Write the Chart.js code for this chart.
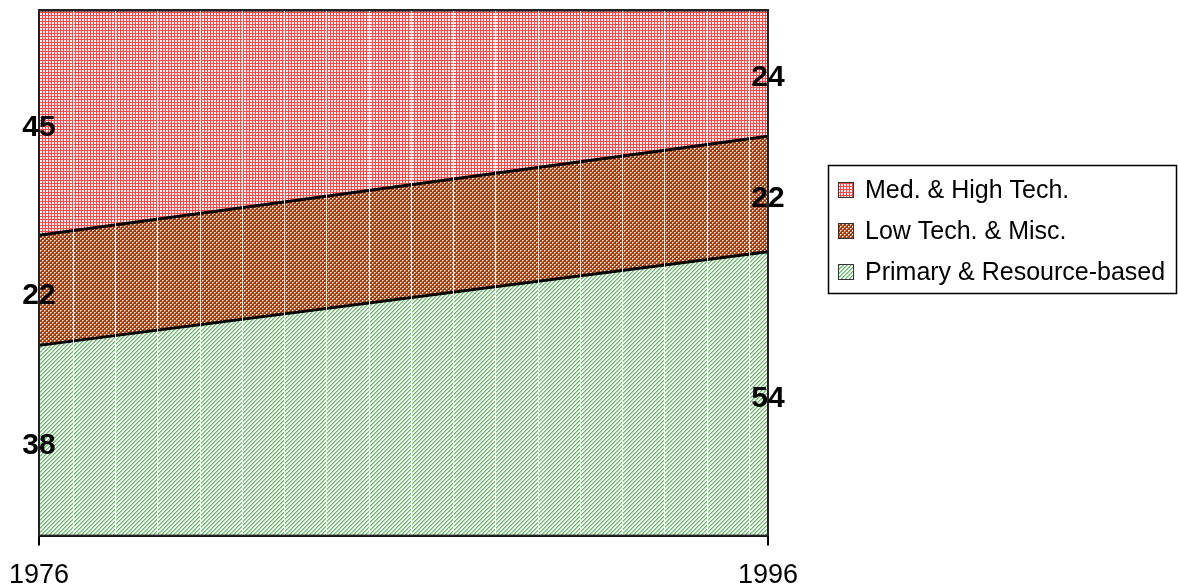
<!DOCTYPE html>
<html>
<head>
<meta charset="utf-8">
<script src="https://cdn.jsdelivr.net/npm/chart.js@4/dist/chart.umd.min.js"></script>
<style>
  html, body { margin: 0; padding: 0; background: #fff; }
  #chart { display: block; }
</style>
</head>
<body>
<canvas id="chart" width="1178" height="588"></canvas>
<script>
const years = ['1976', '1996'];
const primary = [38, 54];
const lowTech = [22, 22];
const medHigh = [45, 24];
const seriesNames = ['Primary & Resource-based', 'Low Tech. & Misc.', 'Med. & High Tech.'];

// shares of each year's total, so the stack always fills 0..100
const totals = years.map((_, i) => primary[i] + lowTech[i] + medHigh[i]);
const toShare = arr => arr.map((v, i) => v / totals[i] * 100);

const FONT = '"Liberation Sans", Arial, sans-serif';

function makePattern(size, paint) {
    const tile = document.createElement('canvas');
    tile.width = size;
    tile.height = size;
    const c = tile.getContext('2d');
    paint(c);
    return c.createPattern(tile, 'repeat');
}

const redGrid = makePattern(3, c => {
    c.fillStyle = '#fff0f0';
    c.fillRect(0, 0, 3, 3);
    c.fillStyle = '#ff4848';
    c.fillRect(0, 0, 3, 1);
    c.fillRect(0, 0, 1, 3);
});

// brown blocks alternating with lighter blocks
const brownWeave = makePattern(4, c => {
    c.fillStyle = '#a03c10';
    c.fillRect(0, 0, 4, 4);
    c.fillStyle = '#e0a080';
    c.fillRect(2, 0, 2, 2);
    c.fillRect(0, 2, 2, 2);
    c.fillStyle = '#ffffff';
    c.fillRect(2, 0, 1, 1);
    c.fillRect(0, 2, 1, 1);
    c.fillStyle = '#a03c10';
    c.fillRect(3, 1, 1, 1);
    c.fillRect(1, 3, 1, 1);
});

const greenHatch = makePattern(4, c => {
    c.fillStyle = '#ffffff';
    c.fillRect(0, 0, 4, 4);
    for (let x = 0; x < 4; x++) {
        c.fillStyle = '#5cc05c';
        c.fillRect(x, 3 - x, 1, 1);
        c.fillStyle = '#9ed89e';
        c.fillRect((x + 1) % 4, 3 - x, 1, 1);
    }
});

const fills = [greenHatch, brownWeave, redGrid];
const rawSeries = [primary, lowTech, medHigh];

const datasets = rawSeries.map((arr, i) => ({
    label: seriesNames[i],
    data: toShare(arr),
    raw: arr,
    backgroundColor: fills[i],
    borderColor: '#000',
    borderWidth: 3,
    pointRadius: 0,
    tension: 0,
    fill: i === 0 ? 'origin' : '-1'
}));

// faint white verticals that run through the hatching
const stripes = {
    id: 'stripes',
    afterDatasetsDraw(chart) {
        const { ctx, chartArea: a } = chart;
        const step = a.width / 17.25;
        ctx.save();
        ctx.strokeStyle = 'rgba(255,255,255,0.85)';
        ctx.lineWidth = 1;
        for (let x = a.left + step * 0.8; x < a.right - 2; x += step) {
            const px = Math.round(x) + 0.5;
            ctx.beginPath();
            ctx.moveTo(px, a.top);
            ctx.lineTo(px, a.bottom);
            ctx.stroke();
        }
        ctx.restore();
    }
};

const frame = {
    id: 'frame',
    afterDatasetsDraw(chart) {
        const { ctx, chartArea: a } = chart;
        ctx.save();
        ctx.strokeStyle = '#222';
        ctx.lineWidth = 2;
        ctx.strokeRect(a.left, a.top, a.width, a.height);
        ctx.restore();
    }
};

const valueLabels = {
    id: 'valueLabels',
    afterDraw(chart) {
        const { ctx } = chart;
        const yScale = chart.scales.y;
        ctx.save();
        ctx.font = 'bold 30px ' + FONT;
        ctx.fillStyle = '#000';
        ctx.textAlign = 'center';
        ctx.textBaseline = 'middle';
        chart.data.datasets.forEach((ds, i) => {
            const meta = chart.getDatasetMeta(i);
            meta.data.forEach((pt, j) => {
                const bottom = i === 0 ? yScale.getPixelForValue(0) : chart.getDatasetMeta(i - 1).data[j].y;
                ctx.fillText(String(ds.raw[j]), pt.x, (pt.y + bottom) / 2 + 5);
            });
        });
        ctx.restore();
    }
};

const boxLegend = {
    id: 'boxLegend',
    afterDraw(chart) {
        const { ctx, chartArea: a } = chart;
        const left = a.right + 60;
        const top = a.top + 155;
        const rowH = 41;
        const order = chart.data.datasets.map((ds, i) => i).reverse();
        ctx.save();
        ctx.strokeStyle = '#000';
        ctx.lineWidth = 1.5;
        ctx.strokeRect(left + 0.5, top + 0.5, chart.width - left - 2, rowH * order.length + 5);
        ctx.font = '25px ' + FONT;
        ctx.textBaseline = 'middle';
        order.forEach((idx, r) => {
            const ds = chart.data.datasets[idx];
            const cy = top + 25 + r * rowH;
            ctx.fillStyle = ds.backgroundColor;
            ctx.fillRect(left + 10, cy - 8, 16, 16);
            ctx.lineWidth = 1;
            ctx.strokeStyle = '#333';
            ctx.strokeRect(left + 10.5, cy - 7.5, 15, 15);
            ctx.fillStyle = '#000';
            ctx.fillText(ds.label, left + 37, cy + 1);
        });
        ctx.restore();
    }
};

new Chart(document.getElementById('chart').getContext('2d'), {
    type: 'line',
    data: { labels: years, datasets },
    plugins: [stripes, frame, valueLabels, boxLegend],
    options: {
        responsive: false,
        animation: false,
        devicePixelRatio: 1,
        layout: { padding: { left: 39, right: 410, top: 10, bottom: -18 } },
        plugins: {
            legend: { display: false },
            tooltip: { enabled: false }
        },
        scales: {
            x: {
                type: 'category',
                offset: false,
                z: 1,
                afterFit: scale => {
                    // let the end labels hang past the plot edges
                    scale.paddingLeft = 0;
                    scale.paddingRight = 0;
                },
                grid: { drawOnChartArea: false, drawTicks: true, tickLength: 10, color: '#000', lineWidth: 2 },
                border: { color: '#000', width: 3 },
                ticks: { color: '#000', font: { family: FONT, size: 27 }, padding: 14, maxRotation: 0, autoSkip: false }
            },
            y: {
                stacked: true,
                min: 0,
                max: 100,
                display: false
            }
        }
    }
});
</script>
</body>
</html>
